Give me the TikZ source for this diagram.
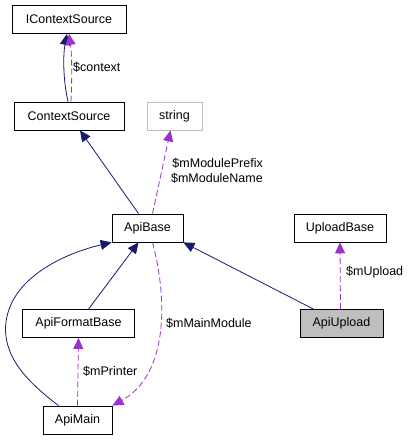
\documentclass[tikz,border=0pt]{standalone}
\usepackage{fontspec}
\setmainfont{Liberation Sans}
\usetikzlibrary{arrows.meta}
\definecolor{inh}{HTML}{191970}
\definecolor{usec}{HTML}{9A32CD}
\definecolor{grayb}{HTML}{BFBFBF}
\tikzset{
  cls/.style={draw=black, line width=0.8pt, fill=white, inner sep=0pt, font=\fontsize{12.5}{14}\selectfont},
  inherit/.style={draw=inh, line width=0.8pt, -{Triangle[length=11pt,width=10pt]}},
  uses/.style={draw=usec, line width=0.8pt, dash pattern=on 6pt off 3pt, -{Triangle[length=11pt,width=10pt,fill=usec]}},
  lbl/.style={font=\fontsize{12.5}{15}\selectfont, inner sep=0pt}
}
\begin{document}
\begin{tikzpicture}[x=1pt,y=-1pt]
\useasboundingbox (0,0) rectangle (411,440);
% nodes
\node[cls, minimum width=114pt, minimum height=28pt] (ics) at (69,19.5) {IContextSource};
\node[cls, minimum width=110pt, minimum height=28pt] (cs) at (69,116) {ContextSource};
\node[cls, draw=grayb, minimum width=55pt, minimum height=28pt] (str) at (174.5,116) {string};
\node[cls, minimum width=71pt, minimum height=28pt] (ab) at (147.5,228) {ApiBase};
\node[cls, minimum width=92pt, minimum height=28pt] (ub) at (340,228) {UploadBase};
\node[cls, fill=grayb, minimum width=83pt, minimum height=28pt] (au) at (341.5,323.5) {ApiUpload};
\node[cls, minimum width=112pt, minimum height=28pt] (afb) at (78.5,323.5) {ApiFormatBase};
\node[cls, minimum width=69pt, minimum height=28pt] (am) at (77.5,420) {ApiMain};
% edges
\draw[inherit] ([xshift=-1pt]cs.north) .. controls (63,80) and (63,55) .. ([xshift=-2pt]ics.south);
\draw[uses] ([xshift=2pt]cs.north) .. controls (72,80) and (72,55) .. ([xshift=0pt]ics.south);
\node[lbl, anchor=west] (lctx) at (73,67) {\$context};

\draw[inherit] ([xshift=-9pt]ab.north) -- ([xshift=11pt]cs.south);
\draw[uses] ([xshift=5pt]ab.north) -- ([xshift=-4pt]str.south);
\node[lbl, anchor=east, align=right] (lmod) at (263,171) {\$mModulePrefix\\\$mModuleName};

\draw[inherit] ([xshift=10pt]afb.north) -- ([xshift=-9pt]ab.south);
\draw[inherit] ([xshift=-19pt]am.north) .. controls (25,380) and (2,355) .. (6,322) .. controls (12,275) and (70,252) .. (ab.south west);
\draw[uses] ([xshift=5pt]ab.south) .. controls (168,300) and (168,375) .. (am.north east);
\node[lbl, anchor=west] (lmain) at (166,323) {\$mMainModule};

\draw[uses] (am.north) -- (afb.south);
\node[lbl, anchor=west] (lpr) at (83,371) {\$mPrinter};

\draw[inherit] ([xshift=-28pt]au.north) -- (ab.south east);
\draw[uses] ([xshift=-1pt]au.north) -- (ub.south);
\node[lbl, anchor=west] (lup) at (346,272) {\$mUpload};
\end{tikzpicture}
\end{document}
